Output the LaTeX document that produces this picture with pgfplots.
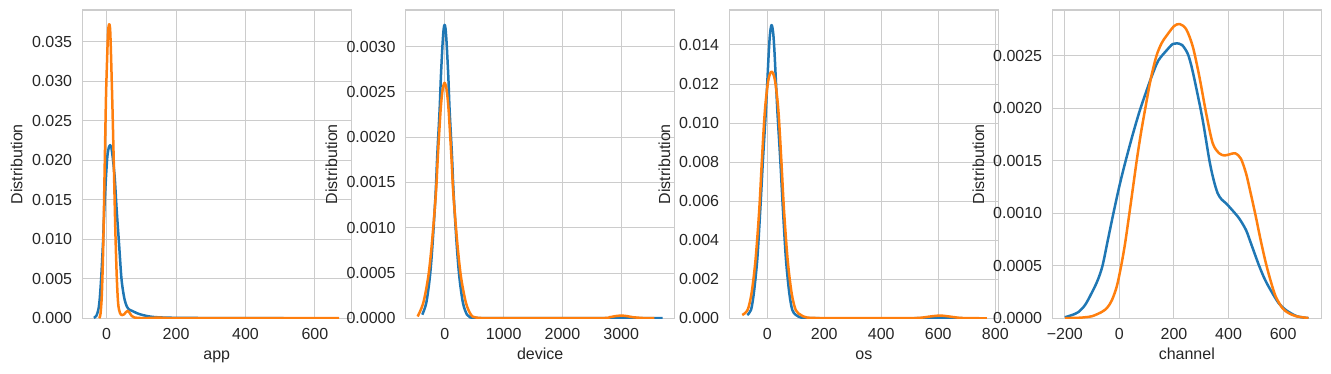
\documentclass[border=0pt]{standalone}
\usepackage{fontspec}
\setmainfont{Liberation Sans}
\usepackage{pgfplots}
\pgfplotsset{compat=1.18}
\definecolor{sbblue}{HTML}{1F77B4}
\definecolor{sborange}{HTML}{FF7F0E}
\definecolor{gridc}{HTML}{CCCCCC}
\definecolor{txt}{HTML}{262626}
\pgfplotsset{
 kde/.style={
  scale only axis, width=269pt, height=308.3pt, anchor=south west,
  axis line style={gridc, line width=1.2pt},
  grid=major, major grid style={gridc, line width=1pt},
  major tick length=0pt,
  tick label style={font=\fontsize{16}{19}\selectfont, text=txt},
  label style={font=\fontsize{16}{19}\selectfont, text=txt},
  /pgf/number format/assume math mode=true,
  scaled y ticks=false, scaled x ticks=false,
  ymin=0,
  yticklabel style={anchor=east, inner sep=0pt, xshift=-10pt},
  xticklabel style={anchor=north, inner sep=0pt, yshift=-9.5pt, /pgf/number format/.cd, fixed, precision=0, 1000 sep={}},
  ylabel=Distribution,
  xlabel style={at={(axis description cs:0.5,0)}, anchor=base, yshift=-41.5pt, inner sep=0pt},
  every axis plot/.append style={line width=2.5pt, no markers, line join=round, smooth, tension=0.5},
 },
}
\begin{document}
\begin{tikzpicture}
\useasboundingbox (0,0) rectangle (1331pt,373pt);
% ---------------- app ----------------
\begin{axis}[kde, at={(82.3pt,54.7pt)},
  xmin=-70.3, xmax=705, ymax=0.039,
  xtick={0,200,400,600},
  ytick={0,0.005,0.010,0.015,0.020,0.025,0.030,0.035},
  yticklabel style={/pgf/number format/.cd, fixed, fixed zerofill, precision=3},
  xlabel=app,
  ylabel style={at={([xshift=-60pt]axis description cs:0,0.5)}, rotate=0, anchor=base, inner sep=0pt}]
\addplot[sbblue] coordinates {
(-37,0.00005) (-30,0.0003) (-24,0.0011) (-20,0.0025) (-15.6,0.0053) (-10.7,0.0095) (-6.9,0.0137) (-2,0.0179) (2,0.0205) (6,0.0216) (10,0.0219) (13,0.0217) (17,0.0205) (23,0.0179) (28.8,0.0137) (35.5,0.0095) (42,0.0053) (47,0.0035) (52,0.0023) (58,0.0015) (65,0.0011) (75,0.0009) (90,0.0006) (105,0.0004) (125,0.00022) (150,0.00012) (200,0.00006) (300,0.00003) (400,0.00002) (510,0.00001)};
\addplot[sborange] coordinates {
(-22,0.00003) (-18,0.0005) (-14,0.003) (-10,0.009) (-6,0.0186) (-2,0.028) (1,0.0325) (4,0.0362) (7,0.0372) (10,0.0365) (13,0.0325) (17,0.026) (21,0.0186) (25,0.011) (29,0.0053) (33,0.0019) (38,0.0007) (44,0.0004) (50,0.0005) (56,0.0008) (61,0.00095) (66,0.0007) (72,0.0003) (80,0.0001) (100,0.00003) (130,0.00005) (150,0.0001) (170,0.00004) (250,0.00001) (400,0.00001) (550,0.00001) (670,0.00001)};
\end{axis}
% ---------------- device ----------------
\begin{axis}[kde, at={(405.7pt,54.7pt)},
  xmin=-667, xmax=3910, ymax=0.003404,
  xtick={0,1000,2000,3000},
  ytick={0,0.0005,0.0010,0.0015,0.0020,0.0025,0.0030},
  yticklabel style={/pgf/number format/.cd, fixed, fixed zerofill, precision=4},
  xlabel=device,
  ylabel style={at={([xshift=-68.7pt]axis description cs:0,0.5)}, rotate=0, anchor=base, inner sep=0pt}]
\addplot[sbblue] coordinates {
(-385,0.00004) (-317,0.00017) (-255,0.00046) (-209,0.00083) (-158,0.00138) (-130,0.0018) (-90,0.0023) (-68,0.00267) (-39,0.00304) (-20,0.0032) (-5,0.00324) (10,0.0032) (29,0.00304) (58,0.00267) (80,0.0023) (120,0.0018) (148,0.00138) (199,0.00083) (245,0.00046) (307,0.00017) (375,0.00004) (430,0.00001) (600,0.000003) (1500,0.000002) (2800,0.000002) (3000,0.000004) (3200,0.000002) (3706,0.000001)};
\addplot[sborange] coordinates {
(-464,0.00002) (-368,0.00017) (-283,0.00046) (-221,0.00083) (-153,0.00138) (-119,0.0018) (-73,0.0023) (-40,0.00252) (-5,0.0026) (30,0.00252) (63,0.0023) (109,0.0018) (143,0.00138) (211,0.00083) (273,0.00046) (358,0.00017) (443,0.00004) (520,0.00001) (800,0.000002) (2600,0.000002) (2800,0.000012) (2900,0.000024) (3000,0.00003) (3100,0.000024) (3200,0.000012) (3400,0.000002) (3565,0.000001)};
\end{axis}
% ---------------- os ----------------
\begin{axis}[kde, at={(729.3pt,54.7pt)},
  xmin=-133, xmax=810.5, ymax=0.01579,
  xtick={0,200,400,600,800},
  ytick={0,0.002,0.004,0.006,0.008,0.010,0.012,0.014},
  yticklabel style={/pgf/number format/.cd, fixed, fixed zerofill, precision=3},
  xlabel=os,
  ylabel style={at={([xshift=-59.3pt]axis description cs:0,0.5)}, rotate=0, anchor=base, inner sep=0pt}]
\addplot[sbblue] coordinates {
(-70,0.00017) (-57,0.000425) (-47,0.00128) (-35,0.003) (-24.4,0.00555) (-15,0.00811) (-4.6,0.01067) (5,0.0135) (10,0.0146) (15.4,0.01502) (21,0.0146) (26,0.0135) (35.4,0.01067) (45.8,0.00811) (55.2,0.00555) (65.8,0.003) (77.5,0.00128) (88,0.000425) (100.8,0.00017) (120,0.00003) (150,0.000005) (300,0.000002) (500,0.000002) (600,0.00001) (700,0.000001)};
\addplot[sborange] coordinates {
(-87.7,0.00017) (-69,0.000425) (-55,0.00128) (-41,0.003) (-28,0.00555) (-18.6,0.00811) (-8,0.01067) (4,0.0122) (15.4,0.01263) (27,0.0122) (39,0.01067) (49.4,0.00811) (58.8,0.00555) (71.6,0.003) (85.7,0.00128) (100,0.000425) (118,0.00017) (140,0.00004) (200,0.00001) (400,0.000005) (500,0.000005) (540,0.00003) (570,0.00009) (606,0.00014) (640,0.00009) (670,0.00003) (700,0.000008) (770,0.000001)};
\end{axis}
% ---------------- channel ----------------
\begin{axis}[kde, at={(1052.3pt,54.7pt)},
  xmin=-246, xmax=740, ymax=0.002934,
  xtick={-200,0,200,400,600},
  xticklabels={−200,0,200,400,600},
  ytick={0,0.0005,0.0010,0.0015,0.0020,0.0025},
  yticklabel style={/pgf/number format/.cd, fixed, fixed zerofill, precision=4},
  xlabel=channel,
  ylabel style={at={([xshift=-68.3pt]axis description cs:0,0.5)}, rotate=0, anchor=base, inner sep=0pt}]
\addplot[sbblue] coordinates {
(-200,0.00001) (-175,0.00003) (-150,0.00006) (-125,0.00013) (-100,0.00025) (-80,0.00036) (-62,0.0005) (-42,0.00075) (-22,0.001) (0,0.00126) (23,0.0015) (50,0.00176) (75,0.00198) (100,0.00217) (118,0.0023) (142,0.00245) (173,0.00255) (195,0.00261) (210,0.002617) (230,0.0026) (250,0.00252) (264,0.0024) (281,0.0022) (305,0.00189) (330,0.0015) (345,0.00132) (360,0.00119) (375,0.00113) (391,0.001094) (415,0.001025) (439,0.00095) (464,0.00084) (482,0.000714) (512,0.0005) (535,0.00036) (561,0.000238) (585,0.00014) (610,0.000079) (650,0.00002) (693,0.000002)};
\addplot[sborange] coordinates {
(-200,0.000002) (-150,0.000005) (-126,0.00001) (-100,0.00002) (-65,0.00006) (-45,0.0001) (-28,0.00017) (-10,0.0003) (5,0.00048) (20,0.0007) (35,0.00097) (50,0.00125) (65,0.00153) (80,0.00178) (97,0.00203) (115,0.00228) (136,0.0025) (155,0.00262) (173,0.00269) (200,0.00278) (221,0.0028) (245,0.00275) (269,0.002585) (293,0.0023) (318,0.00195) (342,0.001665) (366,0.00157) (385,0.00155) (403,0.00156) (425,0.00157) (445,0.00152) (464,0.00138) (482,0.00118) (500,0.000967) (518,0.00074) (537,0.000523) (555,0.00035) (573,0.000206) (598,0.000095) (620,0.00005) (647,0.00002) (693,0.000002)};
\end{axis}
\end{tikzpicture}
\end{document}
